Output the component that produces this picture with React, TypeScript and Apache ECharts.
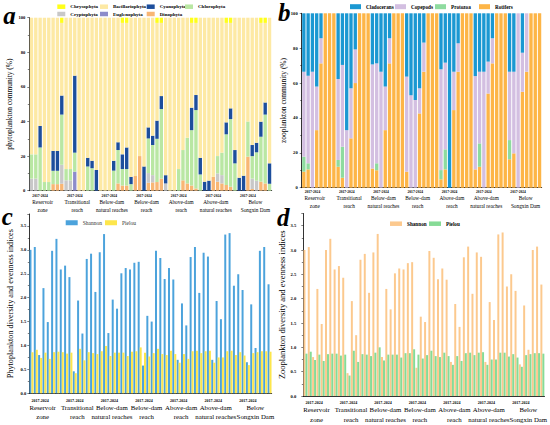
import React, { useEffect, useRef } from 'react';
import * as echarts from 'echarts';

// ---------- categories ----------
const groups = [
  'Reservoir\nzone',
  'Transitional\nreach',
  'Below-dam\nnatural reaches',
  'Below-dam\nreach',
  'Above-dam\nreach',
  'Above-dam\nnatural reaches',
  'Below\nSongxin Dam',
];
const years = ['2017', '2018', '2019', '2020', '2021', '2022', '2023', '2024'];
const yearSpanLabel = '2017-2024';

// ---------- panel a: phytoplankton community (%) ----------
const dinophyta = [0, 0, 0, 0, 0, 3.8, 3.8, 4, 0, 0, 0, 0, 0, 0, 0, 0, 0, 0, 0, 0, 4.2, 3, 3, 0, 8.5, 20, 0, 4.6, 4.8, 5, 7, 0, 0, 0, 0, 6, 4.2, 3, 1.3, 0, 0, 0, 8, 5.2, 4.2, 3.3, 2.3, 0, 0, 0, 19.7, 1, 0, 5.2, 4.2, 0];
const cryptophyta = [7, 7, 0, 0, 0, 0, 0, 11, 6, 6, 0, 0, 0, 0, 0, 0, 0, 0, 0, 0, 0, 0, 0, 0, 0, 0, 0, 5.6, 4.2, 0, 0, 4.2, 0, 0, 0, 0, 0, 0, 0, 0, 0, 0, 0, 4.8, 4.8, 0, 0, 0, 0, 0, 0, 6, 5.8, 0, 0, 0];
const euglenophyta = [0, 0, 0, 0, 0, 0, 0, 0, 0, 0, 11, 0, 0, 0, 0, 0, 0, 0, 0, 0, 0, 0, 0, 0, 0, 0, 0, 0, 0, 0, 0, 0, 0, 0, 0, 0, 0, 0, 0, 0, 0, 0, 0, 0, 0, 0, 0, 0, 0, 0, 0, 0, 0, 0, 0, 0];
const chlorophyta = [14, 14, 25, 5, 5, 7.7, 7.7, 29, 6.5, 6.5, 11, 0, 0, 14, 13, 0, 0, 0, 0, 11.6, 19.3, 9.5, 9.5, 3.8, 0, 0, 0, 20, 17.4, 25, 40.2, 0, 0, 0, 12.5, 17.5, 26.4, 32, 45.3, 9.4, 0, 0, 0, 10, 13, 29.3, 39.1, 15.8, 0, 0, 20.3, 13, 16.4, 26, 39.8, 4];
const cyanophyta = [0, 0, 12.4, 0, 0, 11.5, 11.5, 11, 0, 0, 44.5, 0, 0, 5, 4.3, 12, 0, 0, 0, 5.7, 4.5, 8.5, 12.5, 4.2, 0, 0, 14, 6.4, 5.4, 10.5, 7.5, 4.8, 0, 0, 0, 0, 0, 13, 8.7, 9.6, 5.2, 5.8, 0, 0, 0, 6.9, 6.2, 7.7, 7.5, 8.7, 0, 6.4, 5.5, 8.7, 7, 11.8];
const bacillariophyta = [79, 79, 62.6, 95, 95, 77, 77, 42, 87.5, 87.5, 33.5, 100, 100, 81, 82.7, 88, 100, 100, 100, 82.7, 72, 76, 72, 92, 91.5, 80, 86, 63.4, 68.2, 56.5, 42.3, 91, 100, 100, 87.5, 76.5, 69.4, 49, 41.7, 81, 94.8, 94.2, 92, 80, 78, 57.5, 49.4, 76.5, 92.5, 91.3, 60, 73.6, 72.3, 57.1, 46, 84.2];
const chrysophyta = [0, 0, 0, 0, 0, 0, 0, 3, 0, 0, 0, 0, 0, 0, 0, 0, 0, 0, 0, 0, 0, 3, 3, 0, 0, 0, 0, 0, 0, 3, 3, 0, 0, 0, 0, 0, 0, 3, 3, 0, 0, 0, 0, 0, 0, 3, 3, 0, 0, 0, 0, 0, 0, 3, 3, 0];

// ---------- panel b: zooplankton community (%) ----------
const rotifers = [9.2, 10.5, 0, 33, 71.3, 100, 100, 100, 12, 5.7, 0, 28.3, 60, 100, 100, 100, 11, 10, 0, 33, 71.3, 100, 100, 100, 9.2, 0, 0, 42.6, 66.5, 100, 100, 100, 4.8, 10.5, 0, 44.5, 66.5, 100, 100, 100, 10.5, 12, 0, 54, 71.3, 100, 100, 100, 16.3, 19.7, 0, 55, 66.5, 100, 100, 100];
const protozoa = [8.6, 3.5, 0, 0, 0, 0, 0, 0, 3.9, 17.8, 0, 0, 0, 0, 0, 0, 0, 4, 0, 0, 0, 0, 0, 0, 0, 0, 0, 0, 0, 0, 0, 0, 5.3, 11.5, 0, 0, 0, 0, 0, 0, 0, 13.4, 0, 0, 0, 0, 0, 0, 11, 0, 0, 0, 0, 0, 0, 0];
const copepods = [48.7, 50.2, 66.5, 25, 14.4, 0, 0, 0, 46.4, 46.9, 33, 28.7, 19.3, 0, 0, 0, 59.7, 57.3, 66.5, 25, 14.4, 0, 0, 0, 54.5, 53, 50.3, 14.4, 16.7, 0, 0, 0, 57.8, 49.7, 0, 22, 16.3, 0, 0, 0, 53.5, 41.1, 66.5, 18.3, 14.4, 0, 0, 0, 39.2, 46.8, 100, 22.4, 33.5, 0, 0, 0];
const cladocerans = [33.5, 35.8, 33.5, 42, 14.3, 0, 0, 0, 37.7, 29.6, 67, 43, 20.7, 0, 0, 0, 29.3, 28.7, 33.5, 42, 14.3, 0, 0, 0, 36.3, 47, 49.7, 43, 16.8, 0, 0, 0, 32.1, 28.3, 100, 33.5, 17.2, 0, 0, 0, 36, 33.5, 33.5, 27.7, 14.3, 0, 0, 0, 33.5, 33.5, 0, 22.6, 0, 0, 0, 0];

// ---------- panel c: phytoplankton diversity ----------
const shannonPhyto = [3.00, 3.06, 0.80, 2.20, 1.49, 2.98, 3.23, 2.59, 2.67, 2.43, 0.46, 1.94, 1.25, 2.81, 2.92, 2.12, 2.95, 3.33, 1.26, 1.96, 1.77, 2.51, 2.62, 2.59, 2.73, 2.75, 0.58, 1.62, 1.50, 2.98, 2.83, 2.39, 2.62, 2.38, 0.70, 1.88, 1.42, 2.85, 3.06, 2.10, 2.94, 2.86, 0.70, 1.93, 1.55, 3.32, 3.35, 2.25, 2.49, 2.16, 0.65, 1.86, 0.95, 2.98, 3.06, 2.28];
const pielouPhyto = [0.86, 0.91, 0.74, 0.85, 0.72, 0.86, 0.87, 0.86, 0.83, 0.85, 0.42, 0.93, 0.69, 0.86, 0.84, 0.82, 0.88, 0.99, 0.78, 0.85, 0.85, 0.85, 0.78, 0.87, 0.88, 0.96, 0.85, 0.77, 0.84, 0.93, 0.82, 0.80, 0.89, 0.82, 0.64, 0.82, 0.72, 0.88, 0.89, 0.84, 0.88, 0.89, 0.64, 0.75, 0.75, 0.88, 0.89, 0.80, 0.86, 0.79, 0.59, 0.84, 0.86, 0.88, 0.88, 0.87];

// ---------- panel d: zooplankton diversity ----------
const shannonZoo = [3.00, 3.06, 0.80, 2.20, 1.48, 3.00, 3.23, 2.60, 2.67, 2.43, 0.47, 1.95, 1.25, 2.80, 2.92, 2.12, 2.95, 3.33, 0.80, 2.20, 1.78, 2.52, 2.62, 2.60, 2.73, 2.75, 0.58, 1.63, 1.52, 2.98, 2.84, 2.40, 2.62, 2.39, 0.70, 1.89, 1.42, 2.85, 3.07, 2.10, 2.95, 2.86, 0.70, 1.93, 1.56, 3.32, 3.36, 2.25, 2.50, 2.16, 0.65, 1.86, 0.95, 3.00, 3.07, 2.29];
const pielouZoo = [0.87, 0.91, 0.74, 0.85, 0.72, 0.86, 0.87, 0.87, 0.83, 0.85, 0.42, 0.93, 0.70, 0.86, 0.85, 0.82, 0.89, 1.00, 0.73, 0.85, 0.85, 0.85, 0.79, 0.88, 0.88, 0.96, 0.85, 0.77, 0.84, 0.93, 0.82, 0.80, 0.89, 0.82, 0.64, 0.82, 0.72, 0.88, 0.89, 0.84, 0.89, 0.90, 0.64, 0.75, 0.75, 0.89, 0.89, 0.81, 0.86, 0.79, 0.60, 0.84, 0.86, 0.88, 0.88, 0.87];

const serif = '"Liberation Serif", "Times New Roman", serif';
const black = '#000';

const categories = groups.flatMap((g) => years.map((y) => g.replace('\n', ' ') + ' ' + y));

type AxCfg = { grid: number; yrSize: number; yrMargin: number; gSize: number; gLine: number; gMargin: number };

function makeXAxes(c: AxCfg) {
  const base = { fontSize: c.gSize, lineHeight: c.gLine, fontFamily: serif, color: black };
  return [
    {
      type: 'category',
      gridIndex: c.grid,
      data: categories,
      axisLine: { lineStyle: { color: black, width: 0.8 } },
      axisTick: { interval: 0, length: 2, lineStyle: { color: black, width: 0.5 } },
      axisLabel: {
        interval: 0,
        formatter: (_v: string, i: number) => (i % 8 === 2 ? yearSpanLabel : ''),
        fontSize: c.yrSize,
        lineHeight: c.yrSize + 0.5,
        fontWeight: 'bold',
        fontFamily: serif,
        color: black,
        margin: c.yrMargin,
      },
      splitLine: { show: false },
    },
    {
      type: 'category',
      gridIndex: c.grid,
      position: 'bottom',
      data: groups,
      axisLine: { show: false },
      axisTick: { show: false },
      axisLabel: {
        interval: 0,
        ...base,
        margin: c.gMargin,
        formatter: (v: string, i: number) =>
          v
            .split('\n')
            .map((line) => `{${i === groups.length - 1 ? 'r' : 'l'}|${line}}`)
            .join('\n'),
        rich: {
          l: { ...base, padding: [0, 8, 0, 0] },
          r: { ...base, padding: [0, 0, 0, 2] },
        },
      },
      splitLine: { show: false },
    },
  ];
}

function makeYAxis(grid: number, max: number, interval: number, name: string, nameGap: number, nameSize: number, labelMargin: number, decimals: boolean) {
  return {
    type: 'value',
    gridIndex: grid,
    min: 0,
    max,
    interval,
    name,
    nameLocation: 'middle',
    nameGap,
    nameTextStyle: { fontFamily: serif, fontSize: nameSize, color: black },
    axisLine: { show: true, lineStyle: { color: black, width: 0.8 } },
    axisTick: { show: true, length: 2, lineStyle: { color: black, width: 0.5 } },
    minorTick: { show: true, splitNumber: 2, length: 1.5, lineStyle: { color: black, width: 0.5 } },
    axisLabel: {
      fontSize: 4.6,
      fontWeight: 'bold',
      fontFamily: serif,
      color: black,
      margin: labelMargin,
      showMaxLabel: decimals ? false : true,
      formatter: decimals ? (v: number) => v.toFixed(1) : (v: number) => String(v),
    },
    splitLine: { show: false },
  };
}

function legendItem(name: string, left: number, cy: number, iw: number, ih: number, fs: number, bold: boolean, color: string, label?: string) {
  const h = Math.max(ih, fs);
  return {
    data: [name],
    left,
    top: cy - h / 2,
    padding: 0,
    itemWidth: iw,
    itemHeight: ih,
    icon: 'rect',
    selectedMode: false,
    formatter: label ? () => label : undefined,
    textStyle: { fontSize: fs, lineHeight: fs, fontFamily: serif, fontWeight: bold ? 'bold' : 'normal', color },
  };
}

const phytoSeries: [string, number[], string][] = [
  ['Dinophyta', dinophyta, '#f8b674'],
  ['Cryptophyta', cryptophyta, '#c8c8c8'],
  ['Euglenophyta', euglenophyta, '#8d8cca'],
  ['Chlorophyta', chlorophyta, '#b9e7a3'],
  ['Cyanophyta', cyanophyta, '#1d4e9c'],
  ['Bacillariophyta', bacillariophyta, '#fde9a4'],
  ['Chrysophyta', chrysophyta, '#ffff1a'],
];
const zooSeries: [string, number[], string][] = [
  ['Rotifers', rotifers, '#fdb547'],
  ['Protozoa', protozoa, '#8edb9f'],
  ['Copepods', copepods, '#d3bfe1'],
  ['Cladocerans', cladocerans, '#1b98d2'],
];

function buildOption() {
  const series: any[] = [];
  phytoSeries.forEach(([n, d, c]) =>
    series.push({ type: 'bar', name: n, stack: 'phyto', xAxisIndex: 0, yAxisIndex: 0, data: d, itemStyle: { color: c }, barCategoryGap: '22%' })
  );
  zooSeries.forEach(([n, d, c]) =>
    series.push({ type: 'bar', name: n, stack: 'zoo', xAxisIndex: 2, yAxisIndex: 1, data: d, itemStyle: { color: c }, barCategoryGap: '22%' })
  );
  series.push({ type: 'bar', name: 'Shannon', xAxisIndex: 4, yAxisIndex: 2, data: shannonPhyto, itemStyle: { color: '#4ca3dc' }, barGap: '0%', barCategoryGap: '8%' });
  series.push({ type: 'bar', name: 'Pielou', xAxisIndex: 4, yAxisIndex: 2, data: pielouPhyto, itemStyle: { color: '#fde64c' }, barGap: '0%', barCategoryGap: '8%' });
  series.push({ type: 'bar', name: 'Shannon (zooplankton)', xAxisIndex: 6, yAxisIndex: 3, data: shannonZoo, itemStyle: { color: '#fcc98e' }, barGap: '0%', barCategoryGap: '8%' });
  series.push({ type: 'bar', name: 'Pielou (zooplankton)', xAxisIndex: 6, yAxisIndex: 3, data: pielouZoo, itemStyle: { color: '#86db96' }, barGap: '0%', barCategoryGap: '8%' });

  const legend = [
    legendItem('Chrysophyta', 57.3, 6.7, 8, 4.5, 5, true, black),
    legendItem('Bacillariophyta', 100, 6.7, 8, 4.5, 5, true, black),
    legendItem('Cyanophyta', 146.7, 6.7, 8, 4.5, 5, true, black),
    legendItem('Chlorophyta', 185, 6.7, 8, 4.5, 5, true, black),
    legendItem('Cryptophyta', 57.3, 14, 8, 4.5, 5, true, black),
    legendItem('Euglenophyta', 100, 14, 8, 4.5, 5, true, black),
    legendItem('Dinophyta', 146.7, 14, 8, 4.5, 5, true, black),
    legendItem('Cladocerans', 350, 6.7, 11, 5, 5.2, true, black),
    legendItem('Copepods', 395, 6.7, 11, 5, 5.2, true, black),
    legendItem('Protozoa', 435, 6.7, 11, 5, 5.2, true, black),
    legendItem('Rotifers', 479, 6.7, 11, 5, 5.2, true, black),
    legendItem('Shannon', 65.7, 222.5, 12, 5, 5.5, false, '#333'),
    legendItem('Pielou', 105, 222.5, 12, 5, 5.5, false, '#333'),
    legendItem('Shannon (zooplankton)', 390, 223.7, 12, 4.5, 5.2, true, black, 'Shannon'),
    legendItem('Pielou (zooplankton)', 429, 223.7, 12, 4.5, 5.2, true, black, 'Pielou'),
  ];

  const letter = (t: string, x: number, top: number) => ({
    type: 'text',
    left: x,
    top,
    style: { text: t, fill: black, font: 'italic bold 25px "Liberation Serif", serif' },
  });

  return {
    animation: false,
    grid: [
      { left: 29.3, top: 17.7, width: 242.4, height: 173 },
      { left: 301.7, top: 13.3, width: 240, height: 174.4 },
      { left: 29.3, top: 214, width: 242.4, height: 179.3 },
      { left: 303.3, top: 213.5, width: 242.4, height: 182.5 },
    ],
    xAxis: [
      ...makeXAxes({ grid: 0, yrSize: 3.6, yrMargin: 3.2, gSize: 5.3, gLine: 7.7, gMargin: 7.4 }),
      ...makeXAxes({ grid: 1, yrSize: 3.6, yrMargin: 2, gSize: 5.3, gLine: 7.7, gMargin: 6.8 }),
      ...makeXAxes({ grid: 2, yrSize: 4, yrMargin: 4.5, gSize: 6.8, gLine: 9.3, gMargin: 9.4 }),
      ...makeXAxes({ grid: 3, yrSize: 4, yrMargin: 4.2, gSize: 6.8, gLine: 9.3, gMargin: 9.2 }),
    ],
    yAxis: [
      makeYAxis(0, 100, 20, 'phytoplankton community (%)', 16.5, 7.4, 4, false),
      makeYAxis(1, 100, 20, 'zooplankton community (%)', 11.5, 7.4, 4, false),
      makeYAxis(2, 3.75, 0.5, 'Phytoplankton diversity and evenness indices', 14.5, 8.2, 3, true),
      makeYAxis(3, 3.75, 0.5, 'Zooplankton diversity and evenness indices', 13.5, 8.5, 7, true),
    ],
    legend,
    graphic: [letter('a', 3.3, 3), letter('b', 278, 0), letter('c', 1.7, 204), letter('d', 277, 205)],
    series,
  };
}

export default function App() {
  const ref = useRef<HTMLDivElement>(null);
  useEffect(() => {
    if (!ref.current) return;
    const chart = echarts.init(ref.current, undefined, { renderer: 'svg' });
    chart.setOption(buildOption() as any);
    return () => chart.dispose();
  }, []);
  return <div ref={ref} style={{ position: 'absolute', left: 0, top: 0, width: 550, height: 425, background: '#fff' }} />;
}
